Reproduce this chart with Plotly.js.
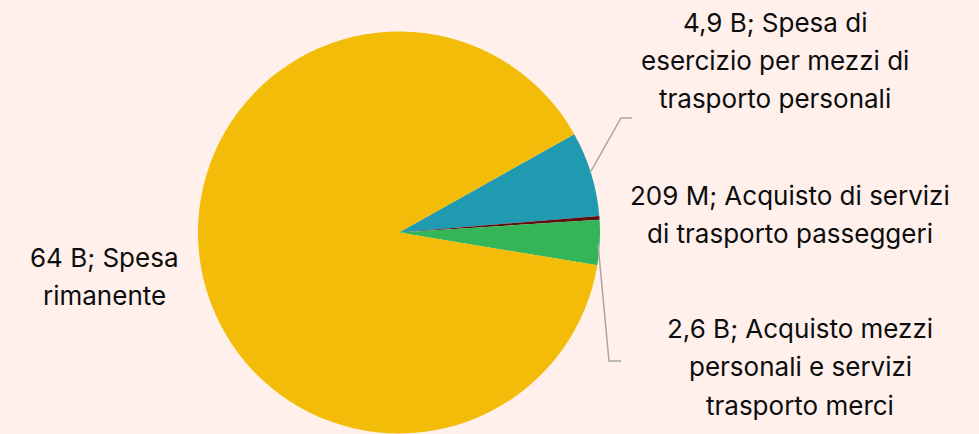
<!DOCTYPE html>
<html>
<head>
<meta charset="utf-8">
<script src="https://cdn.plot.ly/plotly-3.0.1.min.js"></script>
<style>html,body{margin:0;padding:0;background:#FFF0EC;}#chart{width:979px;height:434px;}</style>
</head>
<body>
<div id="chart"></div>
<script>
// Data (clockwise order starting from the blue slice)
const categories = [
  "Spesa di esercizio per mezzi di trasporto personali",
  "Acquisto di servizi di trasporto passeggeri",
  "Acquisto mezzi personali e servizi trasporto merci",
  "Spesa rimanente"
];
const values = [4.9, 0.209, 2.6, 64];
const valueLabels = ["4,9 B", "209 M", "2,6 B", "64 B"];
const labelLines = [
  ["4,9 B; Spesa di", "esercizio per mezzi di", "trasporto personali"],
  ["209 M; Acquisto di servizi", "di trasporto passeggeri"],
  ["2,6 B; Acquisto mezzi", "personali e servizi", "trasporto merci"],
  ["64 B; Spesa", "rimanente"]
];
const colors = ["#1F9AB0", "#5E1010", "#34B557", "#F2BC08"];

const W = 979, H = 434;
const px = x => x / W;
const py = y => 1 - y / H;

// label placement (pixel centers of first line) and line spacing
const labelPos = [[775, 22], [790, 195], [800, 328], [104, 257]];
const lineGap = 38.5;

const annotations = [];
labelLines.forEach((lines, i) => {
  lines.forEach((t, j) => {
    annotations.push({
      text: t, xref: "paper", yref: "paper",
      x: px(labelPos[i][0]), y: py(labelPos[i][1] + j * lineGap),
      xanchor: "center", yanchor: "middle", showarrow: false,
      font: {family: "Inter, 'Open Sans', sans-serif", size: 26, color: "#0d0d0d"}
    });
  });
});

const leaderColor = "#A6A6A6";
const leaders = [
  [[590, 173], [621, 118], [632, 118]],
  [[598, 244], [609, 361], [621, 361]]
];
const shapes = leaders.map(pts => ({
  type: "path", xref: "paper", yref: "paper",
  path: pts.map((p, k) => (k ? "L" : "M") + px(p[0]) + "," + py(p[1])).join(" "),
  line: {color: leaderColor, width: 1.5}
}));

const trace = {
  type: "pie",
  labels: categories,
  values: values,
  sort: false,
  direction: "clockwise",
  rotation: 60.7,
  marker: {colors: colors, line: {width: 0}},
  textinfo: "none",
  hoverinfo: "label+value",
  domain: {x: [px(198), px(600)], y: [0, py(31)]}
};

Plotly.newPlot("chart", [trace], {
  width: W, height: H,
  margin: {l: 0, r: 0, t: 0, b: 0},
  paper_bgcolor: "#FFF0EC",
  plot_bgcolor: "#FFF0EC",
  showlegend: false,
  annotations: annotations,
  shapes: shapes
}, {displayModeBar: false, staticPlot: true});
</script>
</body>
</html>
